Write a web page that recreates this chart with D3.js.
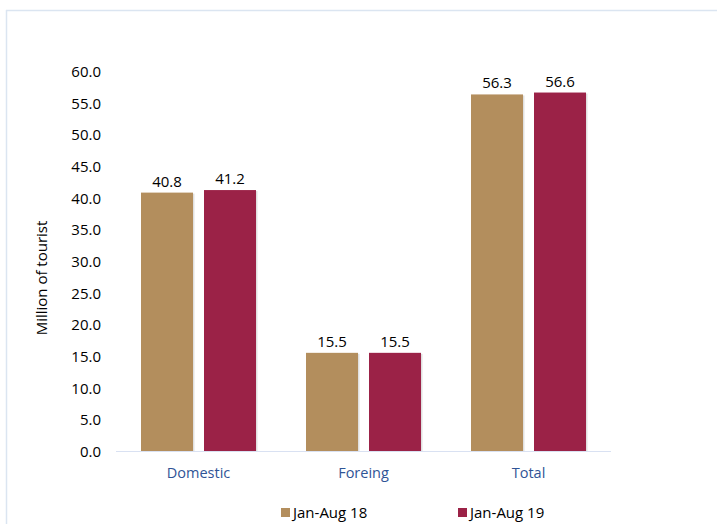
<!DOCTYPE html>
<html>
<head>
<meta charset="utf-8">
<script src="https://cdn.jsdelivr.net/npm/d3@7"></script>
<style>
  html, body { margin: 0; padding: 0; background: #ffffff; }
  svg { display: block; }
  text { font-family: "Open Sans", Carlito, Lato, sans-serif; }
</style>
</head>
<body>
<svg id="chart" width="717" height="524"></svg>
<script>
// Tourist arrivals, Jan–Aug 2018 vs Jan–Aug 2019 (million)
const categories = ["Domestic", "Foreing", "Total"];
const seriesNames = ["Jan-Aug 18", "Jan-Aug 19"];
const values18 = [40.8, 15.5, 56.3];
const values19 = [41.2, 15.5, 56.6];
const yTicks = [0, 5, 10, 15, 20, 25, 30, 35, 40, 45, 50, 55, 60];
const colors = ["#B38E5D", "#9B2247"];

const FONT = "'Open Sans', Carlito, Lato, sans-serif";
const svg = d3.select("#chart");

// light frame around the chart area
svg.append("line").attr("x1", 6).attr("x2", 717).attr("y1", 10.5).attr("y2", 10.5)
  .attr("stroke", "#dbe5f1").attr("stroke-width", 1.5);
svg.append("line").attr("x1", 6.5).attr("x2", 6.5).attr("y1", 10).attr("y2", 524)
  .attr("stroke", "#dbe5f1").attr("stroke-width", 1.5);

const plot = { left: 116, right: 611, top: 71, bottom: 451 };

const x = d3.scaleBand().domain(categories).range([plot.left, plot.right]);
const y = d3.scaleLinear().domain([0, 60]).range([plot.bottom, plot.top]);

const barW = 52, barGap = 11;
const rows = categories.map((c, i) => ({ cat: c, vals: [values18[i], values19[i]] }));

// y-axis tick labels
const yAxis = d3.axisLeft(y).tickValues(yTicks).tickFormat(d3.format(".1f")).tickSize(0).tickPadding(0);
const yg = svg.append("g").attr("transform", `translate(${plot.left - 15},0)`).call(yAxis);
yg.select(".domain").remove();
yg.selectAll("text").attr("font-size", 15).attr("fill", "#000").attr("dy", "0.36em")
  .style("font-family", FONT);

// y-axis title
svg.append("text")
  .attr("transform", `translate(47,278) rotate(-90)`)
  .attr("text-anchor", "middle")
  .attr("font-size", 15)
  .attr("fill", "#000")
  .text("Million of tourist");

// bars
const groups = svg.append("g").selectAll("g").data(rows).join("g")
  .attr("transform", d => `translate(${x(d.cat) + (x.bandwidth() - (barW * 2 + barGap)) / 2},0)`);

groups.selectAll("rect.shadow").data(d => d.vals.map((v, j) => ({ v, j })))
  .join("rect").attr("class", "shadow")
  .attr("x", d => d.j * (barW + barGap) + 1.5)
  .attr("y", d => y(d.v) + 1)
  .attr("width", barW)
  .attr("height", d => plot.bottom - y(d.v) - 1)
  .attr("fill", "#000").attr("opacity", 0.12);

groups.selectAll("rect.bar").data(d => d.vals.map((v, j) => ({ v, j })))
  .join("rect").attr("class", "bar")
  .attr("x", d => d.j * (barW + barGap))
  .attr("y", d => y(d.v))
  .attr("width", barW)
  .attr("height", d => plot.bottom - y(d.v))
  .attr("fill", d => colors[d.j]);

// value labels
groups.selectAll("text.val").data(d => d.vals.map((v, j) => ({ v, j })))
  .join("text").attr("class", "val")
  .attr("x", d => d.j * (barW + barGap) + barW / 2)
  .attr("y", d => y(d.v) - 6)
  .attr("text-anchor", "middle")
  .attr("font-size", 15)
  .attr("fill", "#000")
  .text(d => d3.format(".1f")(d.v));

// baseline
svg.append("line")
  .attr("x1", plot.left).attr("x2", plot.right)
  .attr("y1", plot.bottom + 0.5).attr("y2", plot.bottom + 0.5)
  .attr("stroke", "#d9e1f2").attr("stroke-width", 1.2);

// category labels
const xAxis = d3.axisBottom(x).tickSize(0).tickPadding(0);
const xg = svg.append("g").attr("transform", `translate(0,${plot.bottom + 27})`).call(xAxis);
xg.select(".domain").remove();
xg.selectAll("text").attr("font-size", 14.5).attr("fill", "#2F5496").attr("dy", "0")
  .style("font-family", FONT);

// legend
const legendX = [281, 458];
const lg = svg.append("g").selectAll("g").data(seriesNames).join("g")
  .attr("transform", (d, i) => `translate(${legendX[i]},507)`);
lg.append("rect").attr("width", 9).attr("height", 9).attr("y", 1).attr("fill", (d, i) => colors[i]);
lg.append("text").attr("x", 12).attr("y", 11).attr("font-size", 15).attr("fill", "#000").text(d => d);
</script>
</body>
</html>
